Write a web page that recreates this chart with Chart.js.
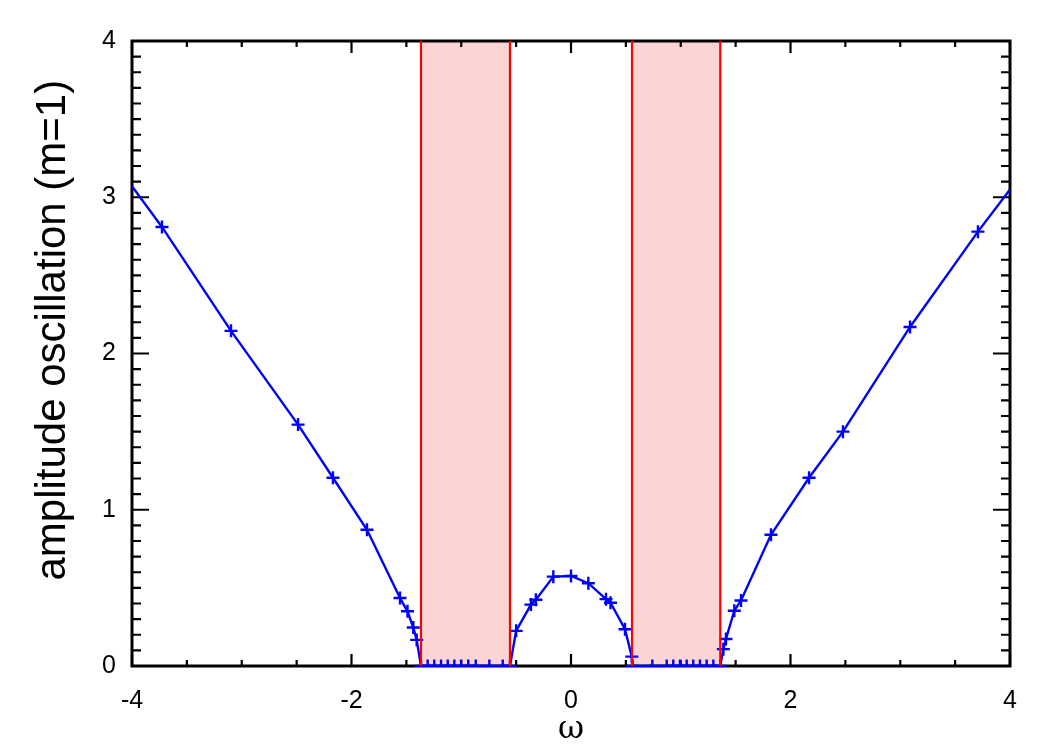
<!DOCTYPE html>
<html>
<head>
<meta charset="utf-8">
<script src="https://cdn.jsdelivr.net/npm/chart.js@4"></script>
<style>
  body { margin: 0; background: #fff; }
  #wrap { width: 1050px; height: 750px; }
</style>
</head>
<body>
<div id="wrap"><canvas id="ampChart" width="1050" height="750"></canvas></div>
<script>
// omega values and amplitude
const omega = [-4.0, -3.727, -3.098, -2.487, -2.169, -1.859, -1.558, -1.49, -1.437, -1.406, -1.367,
  -1.306, -1.246, -1.184, -1.123, -1.063, -1.002, -0.936, -0.868, -0.744, -0.622, -0.556,
  -0.5, -0.365, -0.32, -0.161, 0.0, 0.158, 0.319, 0.36, 0.492, 0.554,
  0.56, 0.741, 0.872, 0.932, 0.993, 1.054, 1.114, 1.175, 1.236, 1.297, 1.36,
  1.388, 1.412, 1.488, 1.549, 1.822, 2.169, 2.478, 3.089, 3.708, 4.0];
const amplitude = [3.07, 2.81, 2.145, 1.545, 1.205, 0.872, 0.435, 0.35, 0.246, 0.167, 0.0,
  0, 0, 0, 0, 0, 0, 0, 0, 0, 0, 0,
  0.225, 0.393, 0.424, 0.572, 0.576, 0.53, 0.428, 0.405, 0.235, 0.06,
  0, 0, 0, 0, 0, 0, 0, 0, 0, 0, 0,
  0.108, 0.173, 0.354, 0.419, 0.84, 1.205, 1.5, 2.17, 2.78, 3.05];

// shaded bands (omega limits)
const bandStart = [-1.367, 0.556];
const bandEnd = [-0.556, 1.36];

const xTickLabels = [-4, -2, 0, 2, 4];
const yTickLabels = [0, 1, 2, 3, 4];

const points = omega.map((w, i) => ({ x: w, y: amplitude[i] }));

// pink bands under everything, black frame with inward ticks, red edges on top
const bandsAndFrame = {
  id: 'bandsAndFrame',
  beforeDatasetsDraw(chart) {
    const { ctx, chartArea: a, scales: { x, y } } = chart;
    ctx.save();
    ctx.fillStyle = 'rgb(253, 212, 212)';
    bandStart.forEach((s, i) => {
      const x0 = x.getPixelForValue(s), x1 = x.getPixelForValue(bandEnd[i]);
      ctx.fillRect(x0, a.top, x1 - x0, a.bottom - a.top);
    });
    ctx.strokeStyle = '#000';
    ctx.lineWidth = 3;
    ctx.strokeRect(a.left, a.top, a.right - a.left, a.bottom - a.top);
    ctx.lineWidth = 2.2;
    ctx.beginPath();
    for (let v = -4; v <= 4.001; v += 0.5) {
      const px = x.getPixelForValue(v);
      const len = xTickLabels.includes(v) ? 12 : 6;
      ctx.moveTo(px, a.bottom); ctx.lineTo(px, a.bottom - len);
      ctx.moveTo(px, a.top); ctx.lineTo(px, a.top + len);
    }
    for (let k = 0; k <= 40; k++) {
      const py = y.getPixelForValue(k / 10);
      const len = k % 10 === 0 ? 17 : 9;
      ctx.moveTo(a.left, py); ctx.lineTo(a.left + len, py);
      ctx.moveTo(a.right, py); ctx.lineTo(a.right - len, py);
    }
    ctx.stroke();
    ctx.restore();
  },
  afterDatasetsDraw(chart) {
    const { ctx, chartArea: a, scales: { x } } = chart;
    ctx.save();
    ctx.strokeStyle = '#ff0000';
    ctx.lineWidth = 2.2;
    ctx.beginPath();
    bandStart.concat(bandEnd).forEach(v => {
      const px = x.getPixelForValue(v);
      ctx.moveTo(px, a.top); ctx.lineTo(px, a.bottom);
    });
    ctx.stroke();
    ctx.restore();
  }
};

const sans = '"Liberation Sans", Arial, Helvetica, sans-serif';
const tickFont = { family: sans, size: 25 };

new Chart(document.getElementById('ampChart'), {
  type: 'scatter',
  data: {
    datasets: [{
      data: points,
      showLine: true,
      borderColor: '#0000ff',
      borderWidth: 2.4,
      pointStyle: 'cross',
      pointRadius: c => (c.raw && Math.abs(c.raw.x) >= 4 ? 0 : 6.5),
      pointBorderColor: '#0000ff',
      pointBorderWidth: 2.4,
      clip: { left: 0, top: 0, right: 0, bottom: 1 }
    }]
  },
  options: {
    responsive: false,
    animation: false,
    events: [],
    layout: { padding: { top: 41, right: 40, left: 0, bottom: 0 } },
    plugins: { legend: { display: false }, tooltip: { enabled: false } },
    scales: {
      x: {
        type: 'linear',
        min: -4, max: 4,
        grid: { display: false },
        border: { display: false },
        afterBuildTicks: s => { s.ticks = xTickLabels.map(v => ({ value: v })); },
        ticks: { color: '#000', font: tickFont, padding: 12, maxRotation: 0 },
        title: {
          display: true, text: 'ω', color: '#000',
          font: { family: '"DejaVu Serif", "Liberation Serif", serif', size: 32 },
          padding: { top: 0, bottom: 1 }
        },
        afterFit: s => { s.height = 84; }
      },
      y: {
        type: 'linear',
        min: 0, max: 4,
        grid: { display: false },
        border: { display: false },
        afterBuildTicks: s => { s.ticks = yTickLabels.map(v => ({ value: v })); },
        ticks: { color: '#000', font: tickFont, padding: 8 },
        title: {
          display: true,
          // leading no-break spaces lift the title like in the original
          text: '\u00a0\u00a0\u00a0\u00a0amplitude oscillation (m=1)',
          color: '#000',
          font: { family: sans, size: 42 },
          padding: { top: 28, bottom: 0 }
        },
        afterFit: s => { s.width = 132; }
      }
    }
  },
  plugins: [bandsAndFrame]
});
</script>
</body>
</html>
